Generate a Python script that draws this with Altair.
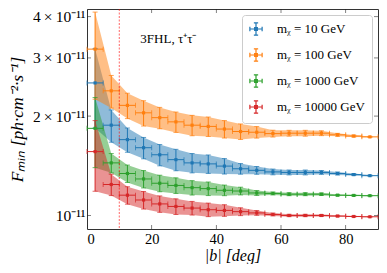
import altair as alt
import pandas as pd

# |b| bin centres (deg) and half bin width
b_centers = [2.5, 7.5, 12.5, 17.5, 22.5, 27.5, 32.5, 37.5, 42.5, 47.5,
             52.5, 57.5, 62.5, 67.5, 72.5, 77.5, 82.5, 87.5]
b_half = 2.5

series_labels = ["mᵪ = 10 GeV", "mᵪ = 100 GeV", "mᵪ = 1000 GeV", "mᵪ = 10000 GeV"]
series_colors = ["#1f77b4", "#ff7f0e", "#2ca02c", "#d62728"]

# F_min in units of 1e-11 ph cm^-2 s^-1
flux_10 = [2.52, 1.877, 1.697, 1.604, 1.527, 1.476, 1.443, 1.433, 1.411, 1.385,
           1.37, 1.355, 1.35, 1.35, 1.35, 1.34, 1.33, 1.32]
err_10 = [0.68, 0.21, 0.143, 0.119, 0.113, 0.11, 0.097, 0.092, 0.076, 0.051,
          0.037, 0.027, 0.023, 0.023, 0.018, 0.014, 0.009, 0.005]
flux_100 = [3.19, 2.385, 2.155, 2.046, 1.978, 1.921, 1.877, 1.861, 1.827, 1.796,
            1.787, 1.77, 1.775, 1.775, 1.775, 1.755, 1.74, 1.73]
err_100 = [0.94, 0.27, 0.19, 0.18, 0.147, 0.136, 0.133, 0.126, 0.111, 0.097,
           0.072, 0.042, 0.036, 0.036, 0.03, 0.018, 0.012, 0.006]
flux_1000 = [1.836, 1.443, 1.34, 1.29, 1.252, 1.233, 1.214, 1.206, 1.192, 1.186,
             1.17, 1.166, 1.16, 1.16, 1.16, 1.152, 1.15, 1.148]
err_1000 = [0.44, 0.097, 0.081, 0.078, 0.072, 0.067, 0.061, 0.057, 0.044, 0.032,
            0.02, 0.012, 0.012, 0.012, 0.01, 0.006, 0.005, 0.004]
flux_10000 = [1.561, 1.241, 1.152, 1.114, 1.084, 1.065, 1.053, 1.041, 1.036, 1.027,
              1.018, 1.007, 1.0, 1.0, 1.0, 0.996, 0.993, 0.991]
err_10000 = [0.377, 0.092, 0.07, 0.068, 0.062, 0.058, 0.05, 0.049, 0.042, 0.028,
             0.017, 0.01, 0.008, 0.008, 0.007, 0.005, 0.004, 0.003]

x_ticks = [0, 20, 40, 60, 80]
y_ticks = [1, 2, 3, 4]
x_domain = [0, 90]
y_domain = [0.91, 4.22]
cut_b = [10]
annotation = "3FHL, τ⁺τ⁻"

rows = []
for lab, fl, er in zip(series_labels, [flux_10, flux_100, flux_1000, flux_10000],
                       [err_10, err_100, err_1000, err_10000]):
    for b, f, e in zip(b_centers, fl, er):
        rows.append({"series": lab, "b": b, "b_lo": b - b_half, "b_hi": b + b_half,
                     "flux": f, "lo": f - e, "hi": f + e})
df = pd.DataFrame(rows)

FONT = "Liberation Serif"
xs = alt.Scale(domain=x_domain, nice=False, zero=False)
ys = alt.Scale(type="log", domain=y_domain, nice=False)
cscale = alt.Scale(domain=series_labels, range=series_colors)
col = alt.Color("series:N", scale=cscale, legend=None)

x_axis = alt.Axis(values=x_ticks, title="|b| [deg]", titleFontStyle="italic",
                  labelFontSize=14.5, titleFontSize=16, labelPadding=3, titlePadding=2)
y_axis = alt.Axis(values=y_ticks, title="Fₘᵢₙ [ph·cm⁻²·s⁻¹]", titleFontStyle="italic",
                  labelExpr="datum.value == 1 ? '10⁻¹¹' : datum.value + '\u2009×\u200910⁻¹¹'",
                  labelFontSize=15.5, titleFontSize=17.5, labelPadding=2, titlePadding=6)


def X(f):
    return alt.X(f, scale=xs, axis=x_axis)


def Y(f):
    return alt.Y(f, scale=ys, axis=y_axis)


base = alt.Chart(df)
bands = base.mark_area(opacity=0.5).encode(x=X("b:Q"), y=Y("lo:Q"), y2="hi:Q", color=col)

legend_symbol = ("M-1,0H1M0,-1V1M-1,-0.35V0.35M1,-0.35V0.35M-0.35,-1H0.35M-0.35,1H0.35"
                 "M-0.22,-0.22H0.22V0.22H-0.22Z")
col_leg = alt.Color("series:N", scale=cscale,
                    legend=alt.Legend(title=None, orient="top-right", offset=6,
                                      symbolType=legend_symbol, symbolSize=150,
                                      symbolStrokeWidth=1.2, labelFont=FONT, labelFontSize=13,
                                      labelOffset=14, rowPadding=8, padding=7,
                                      fillColor="white", strokeColor="#cccccc",
                                      cornerRadius=3, labelLimit=200))

verr = base.mark_rule(strokeWidth=1).encode(x=X("b:Q"), y=Y("lo:Q"), y2="hi:Q", color=col_leg)
herr = base.mark_rule(strokeWidth=1).encode(x=X("b_lo:Q"), x2="b_hi:Q", y=Y("flux:Q"), color=col)
caps = []
for ych in ["lo", "hi"]:
    caps.append(base.mark_tick(orient="horizontal", size=5, thickness=1).encode(
        x=X("b:Q"), y=Y(f"{ych}:Q"), color=col))
for xch in ["b_lo", "b_hi"]:
    caps.append(base.mark_tick(orient="vertical", size=5, thickness=1).encode(
        x=X(f"{xch}:Q"), y=Y("flux:Q"), color=col))
points = base.mark_point(filled=True, shape="square", size=10, opacity=1).encode(
    x=X("b:Q"), y=Y("flux:Q"), color=col)

cut = alt.Chart(pd.DataFrame({"b": cut_b})).mark_rule(
    color="#ff0000", opacity=0.5, strokeDash=[2, 1.5], strokeWidth=1.2).encode(x=X("b:Q"))

txt = alt.Chart(pd.DataFrame({"b": [16.5], "flux": [3.43], "t": [annotation]})).mark_text(
    align="left", baseline="middle", font=FONT, fontSize=13).encode(
    x=X("b:Q"), y=Y("flux:Q"), text="t:N")

ytick_df = pd.DataFrame([{"v": v, "b": e} for v in y_ticks for e in x_domain])
xtick_df = pd.DataFrame([{"v": v, "flux": e} for v in x_ticks for e in y_domain])
yticks = alt.Chart(ytick_df).mark_tick(orient="horizontal", size=8, thickness=0.8,
                                        color="#222", clip=True).encode(x=X("b:Q"), y=Y("v:Q"))
xticks = alt.Chart(xtick_df).mark_tick(orient="vertical", size=8, thickness=0.8,
                                        color="#222", clip=True).encode(x=X("v:Q"), y=Y("flux:Q"))

chart = alt.layer(bands, verr, herr, *caps, points, cut, txt, yticks, xticks).resolve_legend(
    color="independent").properties(
    width=371, height=256,
    autosize=alt.AutoSizeParams(type="fit", contains="padding"),
    padding={"left": 0, "right": 0, "top": 0, "bottom": 0},
).configure_view(stroke="#333", strokeWidth=1).configure_axis(
    labelFont=FONT, titleFont=FONT, grid=False, ticks=False, domain=False,
    labelColor="black", titleColor="black", titleFontWeight="normal")

chart.save("out.html", embed_options={"renderer": "svg", "actions": False})
